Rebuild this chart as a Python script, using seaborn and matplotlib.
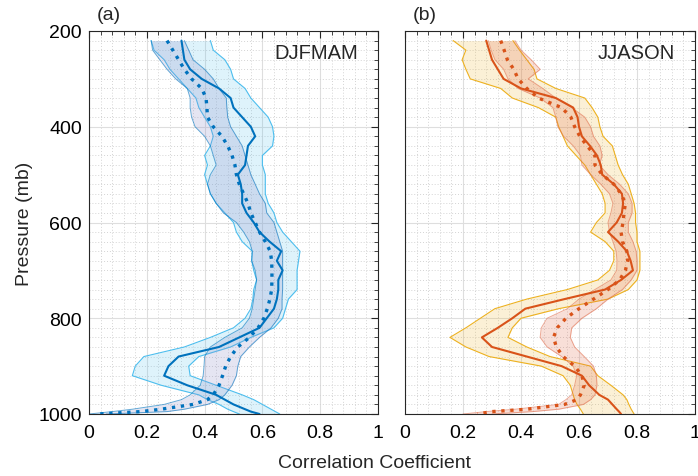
import numpy as np
import pandas as pd
import matplotlib
matplotlib.use("Agg")
import matplotlib.pyplot as plt
import seaborn as sns
from matplotlib.ticker import MultipleLocator

# ---------------- data ----------------
pressure = [220, 240, 260, 280, 300, 320, 340, 360, 380, 400, 420, 440, 460, 480, 500,
            520, 540, 560, 580, 600, 620, 640, 660, 680, 700, 720, 740, 760, 780, 800,
            820, 840, 860, 880, 900, 920, 940, 960, 970, 980, 990, 995, 1000]

# Panel (a) DJFMAM
a_solid = [0.32, 0.325, 0.33, 0.35, 0.39, 0.45, 0.49, 0.50, 0.53, 0.56, 0.575, 0.55, 0.545, 0.54, 0.515,
           0.525, 0.53, 0.53, 0.545, 0.57, 0.59, 0.625, 0.665, 0.65, 0.67, 0.655, 0.655, 0.65, 0.64, 0.615,
           0.59, 0.52, 0.45, 0.31, 0.275, 0.26, 0.34, 0.44, 0.47, 0.50, 0.54, 0.56, 0.59]
a_solid_lo = [0.215, 0.225, 0.26, 0.28, 0.31, 0.34, 0.37, 0.38, 0.40, 0.42, 0.43, 0.42, 0.40, 0.41, 0.40,
              0.41, 0.42, 0.44, 0.47, 0.50, 0.51, 0.53, 0.565, 0.563, 0.57, 0.58, 0.57, 0.567, 0.56, 0.54,
              0.50, 0.42, 0.33, 0.19, 0.16, 0.15, 0.25, 0.38, 0.41, 0.45, 0.48, 0.50, 0.52]
a_solid_hi = [0.42, 0.43, 0.47, 0.49, 0.50, 0.54, 0.56, 0.59, 0.62, 0.635, 0.64, 0.635, 0.60, 0.60, 0.61,
              0.61, 0.61, 0.62, 0.64, 0.65, 0.67, 0.70, 0.73, 0.725, 0.72, 0.72, 0.72, 0.69, 0.68, 0.67,
              0.64, 0.56, 0.49, 0.38, 0.345, 0.35, 0.44, 0.53, 0.57, 0.60, 0.63, 0.645, 0.66]
a_dot = [0.27, 0.29, 0.31, 0.33, 0.355, 0.39, 0.405, 0.408, 0.41, 0.43, 0.46, 0.48, 0.495, 0.505, 0.51,
         0.52, 0.535, 0.55, 0.56, 0.575, 0.59, 0.61, 0.627, 0.632, 0.633, 0.633, 0.632, 0.626, 0.617, 0.605,
         0.585, 0.555, 0.515, 0.49, 0.473, 0.462, 0.45, 0.43, 0.41, 0.36, 0.25, 0.18, 0.03]
a_dot_lo = [0.215, 0.22, 0.245, 0.27, 0.30, 0.34, 0.35, 0.35, 0.355, 0.367, 0.40, 0.42, 0.43, 0.44, 0.42,
            0.41, 0.42, 0.44, 0.465, 0.51, 0.535, 0.555, 0.565, 0.563, 0.575, 0.58, 0.575, 0.57, 0.565, 0.555,
            0.53, 0.47, 0.42, 0.40, 0.398, 0.395, 0.385, 0.35, 0.32, 0.26, 0.15, 0.08, 0.0]
a_dot_hi = [0.33, 0.345, 0.36, 0.40, 0.43, 0.45, 0.475, 0.477, 0.48, 0.49, 0.51, 0.53, 0.54, 0.55, 0.56,
            0.575, 0.59, 0.61, 0.615, 0.64, 0.65, 0.66, 0.67, 0.67, 0.67, 0.67, 0.67, 0.668, 0.668, 0.655,
            0.63, 0.59, 0.555, 0.525, 0.515, 0.51, 0.495, 0.47, 0.45, 0.41, 0.33, 0.27, 0.06]

# Panel (b) JJASON
b_solid = [0.28, 0.29, 0.30, 0.32, 0.34, 0.40, 0.52, 0.58, 0.595, 0.60, 0.61, 0.638, 0.662, 0.675, 0.68,
           0.72, 0.748, 0.752, 0.748, 0.73, 0.70, 0.735, 0.765, 0.778, 0.786, 0.745, 0.69, 0.55, 0.415, 0.37,
           0.32, 0.265, 0.30, 0.42, 0.54, 0.61, 0.635, 0.67, 0.70, 0.715, 0.73, 0.738, 0.745]
b_solid_lo = [0.166, 0.21, 0.197, 0.21, 0.225, 0.33, 0.37, 0.46, 0.52, 0.53, 0.545, 0.56, 0.59, 0.62, 0.64,
              0.66, 0.68, 0.69, 0.69, 0.66, 0.64, 0.69, 0.72, 0.72, 0.705, 0.665, 0.56, 0.42, 0.31, 0.26,
              0.21, 0.155, 0.21, 0.29, 0.47, 0.545, 0.57, 0.58, 0.585, 0.593, 0.605, 0.61, 0.615]
b_solid_hi = [0.372, 0.395, 0.42, 0.445, 0.455, 0.52, 0.62, 0.645, 0.665, 0.672, 0.683, 0.715, 0.725, 0.735, 0.75,
              0.77, 0.78, 0.79, 0.795, 0.795, 0.80, 0.80, 0.81, 0.81, 0.81, 0.80, 0.77, 0.70, 0.53, 0.40,
              0.37, 0.355, 0.42, 0.50, 0.64, 0.665, 0.71, 0.752, 0.765, 0.772, 0.78, 0.785, 0.79]
b_dot = [0.33, 0.342, 0.353, 0.375, 0.39, 0.42, 0.46, 0.54, 0.572, 0.585, 0.603, 0.628, 0.655, 0.655, 0.68,
         0.72, 0.745, 0.76, 0.755, 0.752, 0.745, 0.75, 0.765, 0.768, 0.76, 0.74, 0.70, 0.65, 0.60, 0.555,
         0.525, 0.512, 0.522, 0.545, 0.585, 0.61, 0.618, 0.605, 0.593, 0.55, 0.42, 0.30, 0.25]
b_dot_lo = [0.287, 0.297, 0.31, 0.34, 0.355, 0.39, 0.466, 0.51, 0.52, 0.527, 0.547, 0.58, 0.605, 0.61, 0.64,
            0.675, 0.705, 0.717, 0.71, 0.70, 0.705, 0.717, 0.728, 0.731, 0.73, 0.71, 0.655, 0.60, 0.56, 0.49,
            0.47, 0.466, 0.49, 0.54, 0.58, 0.592, 0.585, 0.575, 0.555, 0.53, 0.38, 0.28, 0.20]
b_dot_hi = [0.379, 0.40, 0.435, 0.466, 0.425, 0.475, 0.52, 0.575, 0.62, 0.64, 0.65, 0.672, 0.68, 0.67, 0.70,
            0.74, 0.77, 0.783, 0.783, 0.77, 0.77, 0.786, 0.797, 0.80, 0.80, 0.78, 0.75, 0.70, 0.66, 0.61,
            0.575, 0.57, 0.585, 0.618, 0.65, 0.66, 0.662, 0.655, 0.64, 0.615, 0.53, 0.44, 0.30]

panel_labels = ["(a)", "(b)"]
season_labels = ["DJFMAM", "JJASON"]
x_ticks = [0, 0.2, 0.4, 0.6, 0.8, 1]
x_tick_labels = ["0", "0.2", "0.4", "0.6", "0.8", "1"]
y_ticks = [200, 400, 600, 800, 1000]

# ---------------- style ----------------
sns.set_style("white")
plt.rcParams["font.family"] = ["Liberation Sans", "DejaVu Sans"]

W, H = 698, 477
fig = plt.figure(figsize=(W / 100, H / 100), dpi=100)
ax_a = fig.add_axes([89 / W, 1 - 415 / H, 289 / W, 383 / H])
ax_b = fig.add_axes([405 / W, 1 - 415 / H, 290 / W, 383 / H])

panels = [
    dict(ax=ax_a, solid=a_solid, slo=a_solid_lo, shi=a_solid_hi, dot=a_dot, dlo=a_dot_lo, dhi=a_dot_hi,
         line="#0072BD", sfill="#4DBEEE", salpha=0.18, sedge="#4DBEEE",
         dfill="#8A8AC8", dalpha=0.22, dedge="#0072BD"),
    dict(ax=ax_b, solid=b_solid, slo=b_solid_lo, shi=b_solid_hi, dot=b_dot, dlo=b_dot_lo, dhi=b_dot_hi,
         line="#D95319", sfill="#EDB120", salpha=0.18, sedge="#EDB120",
         dfill="#E06040", dalpha=0.2, dedge="#E07050"),
]

for i, pn in enumerate(panels):
    ax = pn["ax"]
    df = pd.DataFrame({"p": pressure, "solid": pn["solid"], "dot": pn["dot"]})
    # grids
    ax.xaxis.set_major_locator(MultipleLocator(0.2))
    ax.xaxis.set_minor_locator(MultipleLocator(0.04))
    ax.yaxis.set_major_locator(MultipleLocator(200))
    ax.yaxis.set_minor_locator(MultipleLocator(20))
    ax.grid(which="major", color="#dedede", lw=0.8, ls="-", zorder=0)
    ax.grid(which="minor", color="#d4d4d4", lw=0.7, ls=(0, (1, 2)), zorder=0)
    ax.set_axisbelow(True)

    # bands
    ax.fill_betweenx(pressure, pn["slo"], pn["shi"], color=pn["sfill"], alpha=pn["salpha"], lw=0, zorder=1)
    ax.plot(pn["slo"], pressure, color=pn["sedge"], lw=0.8, zorder=1.5)
    ax.plot(pn["shi"], pressure, color=pn["sedge"], lw=0.8, zorder=1.5)
    ax.fill_betweenx(pressure, pn["dlo"], pn["dhi"], color=pn["dfill"], alpha=pn["dalpha"], lw=0, zorder=2)
    ax.plot(pn["dlo"], pressure, color=pn["dedge"], lw=0.7, alpha=0.6, zorder=2.5)
    ax.plot(pn["dhi"], pressure, color=pn["dedge"], lw=0.7, alpha=0.6, zorder=2.5)

    # lines
    sns.lineplot(data=df, x="solid", y="p", orient="y", sort=False, estimator=None,
                 color=pn["line"], lw=1.5, ax=ax, zorder=3)
    sns.lineplot(data=df, x="dot", y="p", orient="y", sort=False, estimator=None,
                 color=pn["line"], lw=2.4, ls=(0, (1, 1.7)), ax=ax, zorder=3)

    ax.set_xlim(0, 1)
    ax.set_ylim(1000, 200)
    ax.set_xticks(x_ticks)
    ax.set_xticklabels(x_tick_labels)
    ax.set_yticks(y_ticks)
    ax.set_xlabel("")
    ax.set_ylabel("")
    ax.tick_params(which="both", direction="in", top=True, right=True, colors="#262626",
                   labelcolor="black", labelsize=14)
    ax.tick_params(which="major", length=5, width=0.8)
    ax.tick_params(which="minor", length=3, width=0.6)
    ax.tick_params(axis="x", pad=7)
    ax.tick_params(axis="y", pad=5)
    for sp in ax.spines.values():
        sp.set_visible(True)
        sp.set_color("#262626")
        sp.set_linewidth(0.8)

    ax.text(0.028, 1.042, panel_labels[i], transform=ax.transAxes, fontsize=14,
            ha="left", va="center")
    ax.text(0.93, 0.945, season_labels[i], transform=ax.transAxes, fontsize=14.5,
            ha="right", va="center")

ax_b.tick_params(labelleft=False)
ax_a.set_ylabel("Pressure (mb)", fontsize=14, labelpad=4)
fig.text(374 / W, 1 - 464 / H, "Correlation Coefficient", fontsize=14, ha="center", va="center")

fig.savefig("out.png", dpi=100)
